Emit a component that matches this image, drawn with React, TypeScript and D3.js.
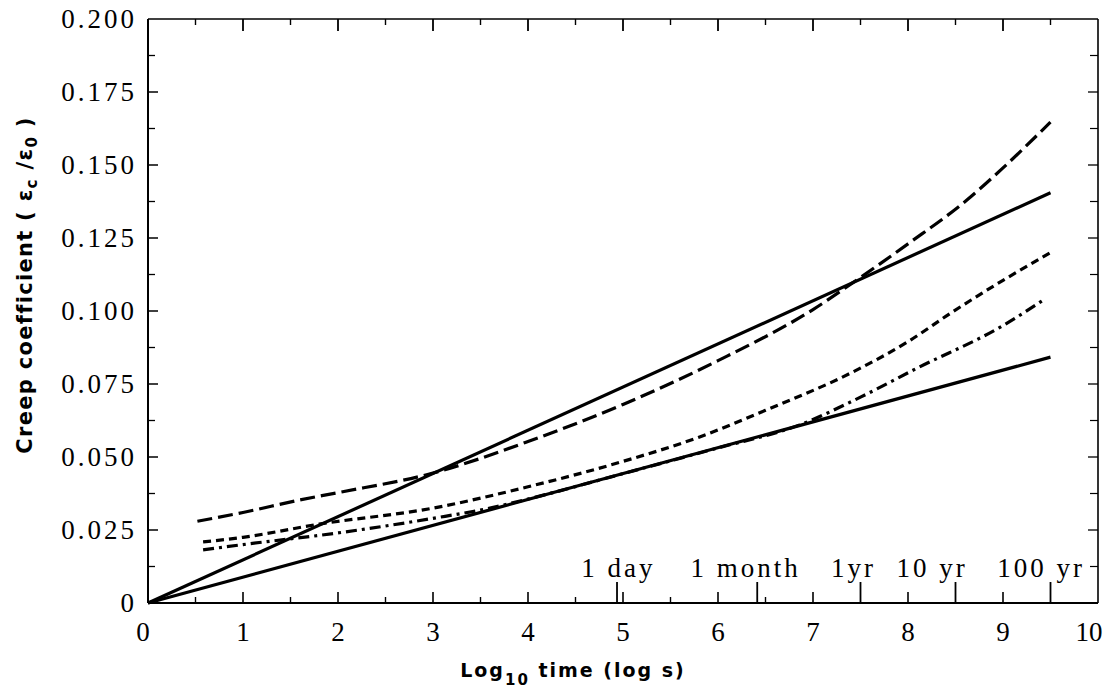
import React from 'react';
import * as d3 from 'd3';

// ---- Data ----
const xTickValues = [0, 1, 2, 3, 4, 5, 6, 7, 8, 9, 10];
const xTickLabels = ['0', '1', '2', '3', '4', '5', '6', '7', '8', '9', '10'];
const xHalfTicks = [0.5, 1.5, 2.5, 3.5, 4.5, 5.5, 6.5];
const yTickValues = [0, 0.025, 0.05, 0.075, 0.1, 0.125, 0.15, 0.175, 0.2];
const yTickLabels = ['0', '0.025', '0.050', '0.075', '0.100', '0.125', '0.150', '0.175', '0.200'];
const yMinorTicks = [0.0125, 0.0375, 0.0625, 0.0875, 0.1125, 0.1375, 0.1625, 0.1875];

// time markers: label, tick position (log10 s), label start position (log10 s)
const markLabels = ['1 day', '1 month', '1yr', '10 yr', '100 yr'];
const markTicks = [4.937, 6.413, 7.5, 8.5, 9.5];
const markLabelX = [4.56, 5.71, 7.19, 7.88, 8.94];

// series: [log10 time, creep coefficient]
const steepSolid: [number, number][] = [[0, 0], [9.5, 0.1405]];
const shallowSolid: [number, number][] = [[0, 0], [9.5, 0.0842]];
const longDash: [number, number][] = [
  [0.52, 0.028], [1, 0.031], [1.6, 0.0353], [2, 0.0378], [3, 0.0445], [4, 0.0553],
  [5, 0.068], [6, 0.083], [7, 0.1005], [7.5, 0.1115], [8, 0.123], [8.62, 0.138],
  [9, 0.149], [9.5, 0.1647],
];
const shortDash: [number, number][] = [
  [0.58, 0.0209], [1, 0.0225], [1.8, 0.027], [3, 0.0325], [4, 0.0398], [5, 0.0485],
  [5.8, 0.0568], [6.5, 0.066], [7.4, 0.0788], [8, 0.0895], [8.45, 0.0993], [9, 0.1105],
  [9.5, 0.12],
];
const dashDot: [number, number][] = [
  [0.58, 0.0182], [1, 0.02], [2, 0.024], [3, 0.029], [3.6, 0.0325], [4, 0.0356],
  [5, 0.0443], [6, 0.0531], [6.86, 0.061], [7.5, 0.0705], [8.1, 0.0805], [9, 0.095],
  [9.45, 0.1043],
];

const seriesList = [
  { name: 'steep', data: steepSolid, dash: 'none' },
  { name: 'shallow', data: shallowSolid, dash: 'none' },
  { name: 'long', data: longDash, dash: '15,6' },
  { name: 'short', data: shortDash, dash: '8,5' },
  { name: 'dashdot', data: dashDot, dash: '11,5,3,5' },
];

export default function App() {
  const W = 1108;
  const H = 691;
  const x = d3.scaleLinear().domain([0, 10]).range([148, 1098]);
  const y = d3.scaleLinear().domain([0, 0.2]).range([603, 19]);
  const line = d3
    .line<[number, number]>()
    .x((d) => x(d[0]))
    .y((d) => y(d[1]))
    .curve(d3.curveMonotoneX);

  const serif = '"Liberation Serif", "Times New Roman", serif';
  const sans = '"DejaVu Sans", sans-serif';
  const x0 = x(0), x1 = x(10), y0 = y(0), y1 = y(0.2);

  return (
    <svg width={W} height={H} style={{ position: 'absolute', left: 0, top: 0, background: '#fff' }}>
      <rect x={0} y={0} width={W} height={H} fill="#fff" />
      {/* frame */}
      <line x1={x0} y1={y1} x2={x0} y2={y0} stroke="#000" strokeWidth={2} />
      <line x1={x0} y1={y0} x2={x1} y2={y0} stroke="#000" strokeWidth={2.2} />
      <line x1={x0} y1={y1} x2={x1} y2={y1} stroke="#000" strokeWidth={1.6} />
      <line x1={x1} y1={y1} x2={x1} y2={y0} stroke="#000" strokeWidth={1.6} />

      {/* bottom & top ticks */}
      {xTickValues.slice(1, -1).map((v) => (
        <g key={'xt' + v}>
          <line x1={x(v)} x2={x(v)} y1={y0} y2={y0 - 11} stroke="#000" strokeWidth={1.6} />
          <line x1={x(v)} x2={x(v)} y1={y1} y2={y1 + 12} stroke="#000" strokeWidth={1.8} />
        </g>
      ))}
      {xHalfTicks.map((v) => (
        <line key={'xh' + v} x1={x(v)} x2={x(v)} y1={y0} y2={y0 - 6} stroke="#000" strokeWidth={1.4} />
      ))}
      {[0.5, 1.5, 2.5, 3.5, 4.5, 5.5, 6.5, 7.5, 8.5, 9.5].map((v) => (
        <line key={'xth' + v} x1={x(v)} x2={x(v)} y1={y1} y2={y1 + 6} stroke="#000" strokeWidth={1.4} />
      ))}
      {markTicks.map((v, i) => (
        <line key={'mk' + i} x1={x(v)} x2={x(v)} y1={y0} y2={y0 - 21} stroke="#000" strokeWidth={1.8} />
      ))}
      {markLabels.map((t, i) => (
        <text key={'ml' + i} x={x(markLabelX[i])} y={577} fontFamily={serif} fontSize={27}
          letterSpacing={3} fill="#000">{t}</text>
      ))}

      {/* left & right ticks */}
      {yTickValues.slice(1, -1).map((v) => (
        <g key={'yt' + v}>
          <line x1={x0} x2={x0 + 10} y1={y(v)} y2={y(v)} stroke="#000" strokeWidth={1.5} />
          <line x1={x1} x2={x1 - 10} y1={y(v)} y2={y(v)} stroke="#000" strokeWidth={1.3} />
        </g>
      ))}
      {yMinorTicks.map((v) => (
        <g key={'ym' + v}>
          <line x1={x0} x2={x0 + 7} y1={y(v)} y2={y(v)} stroke="#000" strokeWidth={1.3} />
          <line x1={x1} x2={x1 - 8} y1={y(v)} y2={y(v)} stroke="#000" strokeWidth={1.2} />
        </g>
      ))}

      {/* tick labels */}
      {yTickValues.map((v, i) => (
        <text key={'yl' + v} x={137} y={y(v) + 9} textAnchor="end" fontFamily={serif}
          fontSize={27} letterSpacing={3} fill="#000">{yTickLabels[i]}</text>
      ))}
      {xTickValues.map((v, i) => (
        <text key={'xl' + v} x={x(v) + (i === 0 ? -5 : i === xTickValues.length - 1 ? -9 : 0)} y={641}
          textAnchor="middle" fontFamily={serif} fontSize={27} fill="#000">{xTickLabels[i]}</text>
      ))}

      {/* series */}
      {seriesList.map((s) => (
        <path key={s.name} d={line(s.data) || ''} fill="none" stroke="#000" strokeWidth={3.2}
          strokeDasharray={s.dash} strokeLinecap="butt" />
      ))}

      {/* axis titles */}
      <text x={573} y={677} textAnchor="middle" fontFamily={sans} fontWeight="bold" fontSize={19}
        letterSpacing={2} fill="#000">
        Log<tspan fontSize={15} dy={8}>10</tspan><tspan dy={-8}> time (log s)</tspan>
      </text>
      <text transform="translate(32,285) rotate(-90)" textAnchor="middle" fontFamily={sans}
        fontWeight="bold" fontSize={21} letterSpacing={1.3} fill="#000">
        Creep coefficient ( ε<tspan fontSize={15} dy={5}>c</tspan><tspan dy={-5}> /ε</tspan>
        <tspan fontSize={15} dy={5}>0</tspan><tspan dy={-5}> )</tspan>
      </text>
    </svg>
  );
}
